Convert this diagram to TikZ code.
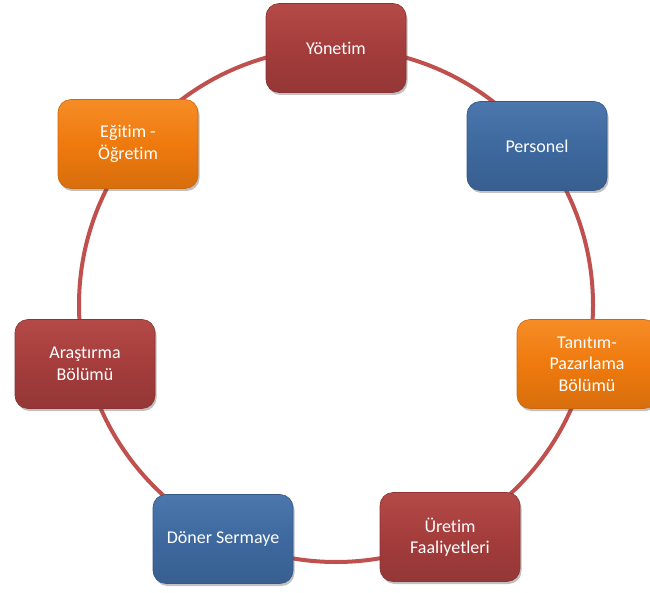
\documentclass[tikz,border=0pt]{standalone}
\usepackage{fontspec}
\setmainfont[Ligatures={NoCommon}]{Carlito}
\usetikzlibrary{shadows}
\definecolor{ringred}{HTML}{C0504D}
\definecolor{boxred}{HTML}{A43D3C}
\definecolor{boxredl}{HTML}{B44A48}
\definecolor{boxblue}{HTML}{3E699F}
\definecolor{boxbluel}{HTML}{4B77AC}
\definecolor{boxorange}{HTML}{EF7A0E}
\definecolor{boxorangel}{HTML}{F68C26}
\tikzset{
  box/.style={rounded corners=13pt, minimum width=140pt, minimum height=89pt,
    text=white, align=center, font=\fontsize{18}{21.5}\selectfont,
    drop shadow={shadow xshift=1.5pt, shadow yshift=-2.5pt, opacity=0.35, fill=black!70},
    draw=#1!85!black, line width=0.6pt},
  redbox/.style={box=boxred, top color=boxredl, bottom color=boxred!90!black, middle color=boxred},
  bluebox/.style={box=boxblue, top color=boxbluel, bottom color=boxblue!90!black, middle color=boxblue},
  orangebox/.style={box=boxorange, top color=boxorangel, bottom color=boxorange!90!black, middle color=boxorange},
  ring/.style={draw=ringred, line width=4pt}
}
\begin{document}
\begin{tikzpicture}[x=1pt,y=-1pt]
\useasboundingbox (0,0) rectangle (650,593);
\coordinate (c) at (336,305);
\draw[ring] (c) circle [radius=257pt];
\node[redbox] (yon) at (336,48) {Yönetim};
\node[bluebox] (per) at (537,146) {Personel};
\node[orangebox] (tan) at (587,364) {Tanıtım-\\Pazarlama\\Bölümü};
\node[redbox] (ure) at (450,537) {Üretim\\Faaliyetleri};
\node[bluebox] (don) at (223,539) {Döner Sermaye};
\node[redbox] (ara) at (85,364) {Araştırma\\Bölümü};
\node[orangebox] (egi) at (128,144) {Eğitim -\\Öğretim};
\end{tikzpicture}
\end{document}
